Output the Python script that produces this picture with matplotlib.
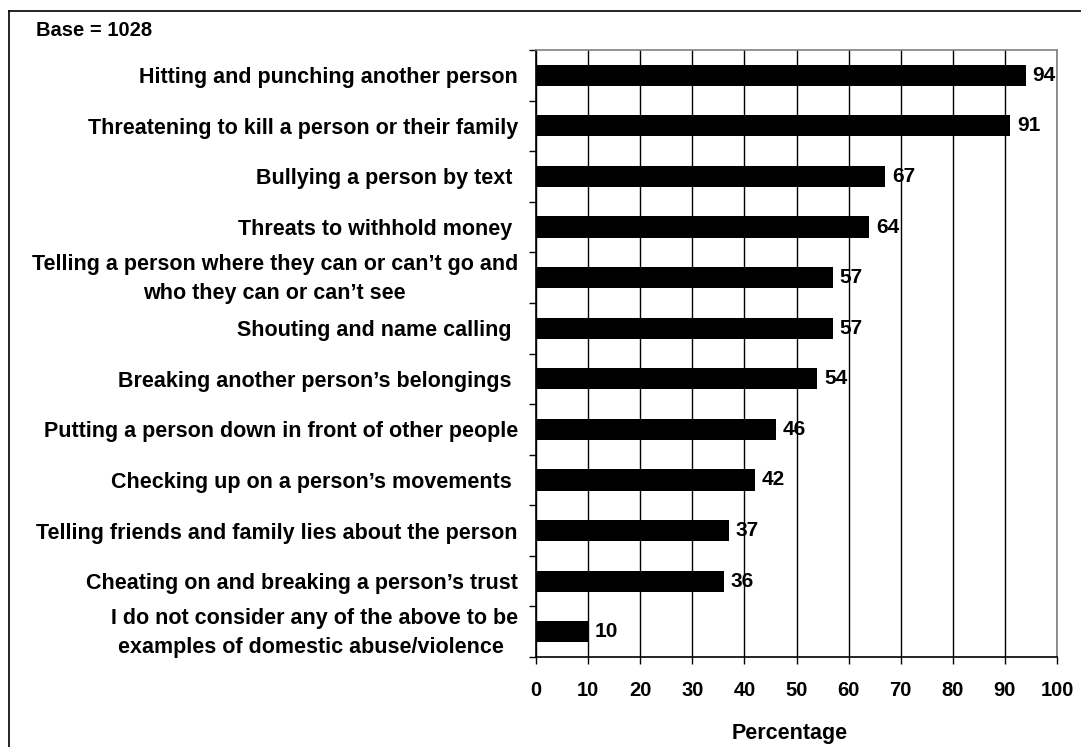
import matplotlib

matplotlib.use("Agg")
import matplotlib.pyplot as plt
import matplotlib.transforms as mtransforms
from matplotlib.lines import Line2D
import numpy as np

plt.rcParams["font.family"] = ["Liberation Sans", "DejaVu Sans"]
plt.rcParams["font.weight"] = "bold"

# survey responses, top to bottom
categories = [
    "Hitting and punching another person",
    "Threatening to kill a person or their family",
    "Bullying a person by text ",
    "Threats to withhold money ",
    "Telling a person where they can or can\u2019t go and\nwho they can or can\u2019t see",
    "Shouting and name calling ",
    "Breaking another person\u2019s belongings ",
    "Putting a person down in front of other people",
    "Checking up on a person\u2019s movements ",
    "Telling friends and family lies about the person",
    "Cheating on and breaking a person\u2019s trust",
    "I do not consider any of the above to be\nexamples of domestic abuse/violence ",
]
percent = [94, 91, 67, 64, 57, 57, 54, 46, 42, 37, 36, 10]
xticks = list(range(0, 101, 10))

fig = plt.figure(figsize=(10.81, 7.47), dpi=100)
ax = fig.add_axes([536 / 1081, 1 - 657 / 747, 521 / 1081, 607 / 747])

y = np.arange(len(categories))
ax.barh(y, percent, height=0.42, color="black", zorder=3)
for yi, v in zip(y, percent):
    ax.text(v + 1.3, yi, f"{v}", va="center", ha="left", fontsize=15,
            fontweight="bold", zorder=4)

ax.set_xlim(0, 100)
ax.set_ylim(len(categories) - 0.5, -0.5)
ax.set_xticks(xticks)
ax.set_xticklabels([str(t) for t in xticks], fontsize=14.5, fontweight="bold")
ax.set_yticks(y)
ax.set_yticklabels(categories, fontsize=15.5, fontweight="bold",
                   multialignment="center", linespacing=1.5)
ax.set_yticks(np.arange(-0.5, len(categories)), minor=True)
ax.tick_params(axis="y", which="major", length=0, pad=13)
ax.tick_params(axis="y", which="minor", length=5, width=1, direction="out")
ax.tick_params(axis="x", length=5, width=1, direction="out", pad=12)

# two-line labels sit a little higher
lift = mtransforms.ScaledTranslation(0, 4 / 72, fig.dpi_scale_trans)
for lab in ax.get_yticklabels():
    if "\n" in lab.get_text():
        lab.set_transform(lab.get_transform() + lift)

ax.grid(axis="x", color="black", linewidth=1, zorder=0)
ax.grid(axis="y", visible=False)
for side in ("top", "right"):
    ax.spines[side].set_color("#808080")
    ax.spines[side].set_linewidth(1.2)
for side in ("left", "bottom"):
    ax.spines[side].set_color("black")
    ax.spines[side].set_linewidth(1.2)

ax.set_xlabel("Percentage", fontsize=15.5, fontweight="bold")
ax.xaxis.set_label_coords((790 - 536) / 521, -(733 - 657) / 607)
ax.xaxis.label.set_va("center")

fig.text(36 / 1081, 1 - 31 / 747, "Base = 1028", fontsize=14.5,
         fontweight="bold", va="center", ha="left")

# outer chart frame (top and left edges)
x0 = 9 / 1081
y0 = 1 - 11 / 747
fig.add_artist(Line2D([x0, 1], [y0, y0], color="black", lw=1.2,
                      transform=fig.transFigure))
fig.add_artist(Line2D([x0, x0], [0, y0], color="black", lw=1.2,
                      transform=fig.transFigure))

fig.savefig("out.png", dpi=100)
